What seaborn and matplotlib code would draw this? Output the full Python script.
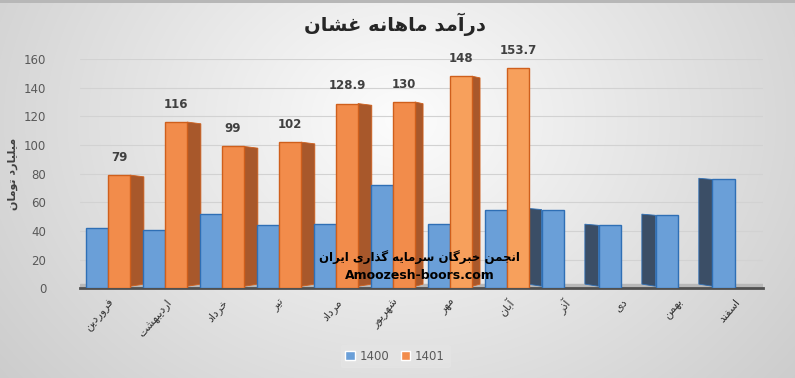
import numpy as np
import pandas as pd
import matplotlib
matplotlib.use("Agg")
import matplotlib.pyplot as plt
from matplotlib.patches import Polygon
import seaborn as sns

# ---------------- data ----------------
title = "درآمد ماهانه غشان"
y_label = "میلیارد تومان"
months = ["فروردین", "اردیبهشت", "خرداد", "تیر", "مرداد", "شهریور",
          "مهر", "آبان", "آذر", "دی", "بهمن", "اسفند"]
series_names = ["1400", "1401"]
values_1400 = [42, 41, 52, 44, 45, 72, 45, 55, 55, 44, 51, 76]
values_1401 = [79, 116, 99, 102, 128.9, 130, 148, 153.7]
y_ticks = [0, 20, 40, 60, 80, 100, 120, 140, 160]
watermark_fa = "انجمن خبرگان سرمایه گذاری ایران"
watermark_en = "Amoozesh-boors.com"

# ---------------- minimal Persian shaping (for display only) ----------------
FORMS = {
    '\u0627': ('\uFE8D', '\uFE8E', None, None),
    '\u0622': ('\uFE81', '\uFE82', None, None),
    '\u0628': ('\uFE8F', '\uFE90', '\uFE91', '\uFE92'),
    '\u062A': ('\uFE95', '\uFE96', '\uFE97', '\uFE98'),
    '\u062C': ('\uFE9D', '\uFE9E', '\uFE9F', '\uFEA0'),
    '\u062E': ('\uFEA5', '\uFEA6', '\uFEA7', '\uFEA8'),
    '\u062F': ('\uFEA9', '\uFEAA', None, None),
    '\u0630': ('\uFEAB', '\uFEAC', None, None),
    '\u0631': ('\uFEAD', '\uFEAE', None, None),
    '\u0632': ('\uFEAF', '\uFEB0', None, None),
    '\u0633': ('\uFEB1', '\uFEB2', '\uFEB3', '\uFEB4'),
    '\u0634': ('\uFEB5', '\uFEB6', '\uFEB7', '\uFEB8'),
    '\u063A': ('\uFECD', '\uFECE', '\uFECF', '\uFED0'),
    '\u0641': ('\uFED1', '\uFED2', '\uFED3', '\uFED4'),
    '\u0644': ('\uFEDD', '\uFEDE', '\uFEDF', '\uFEE0'),
    '\u0645': ('\uFEE1', '\uFEE2', '\uFEE3', '\uFEE4'),
    '\u0646': ('\uFEE5', '\uFEE6', '\uFEE7', '\uFEE8'),
    '\u0647': ('\uFEE9', '\uFEEA', '\uFEEB', '\uFEEC'),
    '\u0648': ('\uFEED', '\uFEEE', None, None),
    '\u06CC': ('\uFBFC', '\uFBFD', '\uFBFE', '\uFBFF'),
    '\u06AF': ('\uFB92', '\uFB93', '\uFB94', '\uFB95'),
}


def fa(text):
    chars = list(text)
    out = []
    for i, c in enumerate(chars):
        if c not in FORMS:
            out.append(c)
            continue
        prev = chars[i - 1] if i > 0 else None
        nxt = chars[i + 1] if i + 1 < len(chars) else None
        jp = prev in FORMS and FORMS[prev][2] is not None
        jn = FORMS[c][2] is not None and nxt in FORMS
        iso, fin, ini, med = FORMS[c]
        if jp and jn:
            out.append(med)
        elif jp:
            out.append(fin)
        elif jn:
            out.append(ini)
        else:
            out.append(iso)
    return "".join(reversed(out))


# ---------------- dataframe ----------------
rows = []
for m, v in zip(months, values_1400):
    rows.append({"month": m, "year": series_names[0], "value": v})
for m, v in zip(months, values_1401):
    rows.append({"month": m, "year": series_names[1], "value": v})
df = pd.DataFrame(rows)

# ---------------- style ----------------
sns.set_theme(style="white")
plt.rcParams["font.family"] = ["DejaVu Sans"]

fig = plt.figure(figsize=(7.95, 3.78), dpi=100)

# gradient background
bg = fig.add_axes([0, 0, 1, 1], zorder=-10)
yy, xx = np.mgrid[0:378, 0:795]
d = np.sqrt(((xx - 400) / 540.0) ** 2 + ((yy - 120) / 440.0) ** 2)
g = np.clip(0.99 - 0.2 * d, 0.78, 0.99)
img = np.dstack([g, g, g])
img[0:3, :, :] = 0.72
bg.imshow(img, aspect="auto", extent=[0, 1, 0, 1], origin="upper")
bg.set_axis_off()

ax = fig.add_axes([0.100, 0.237, 0.860, 0.607])
ax.patch.set_alpha(0)

palette = {"1400": "#6a9fd8", "1401": "#f28c4b"}
sns.barplot(data=df, x="month", y="value", hue="year", order=months,
            hue_order=series_names, palette=palette, width=0.78,
            saturation=1, ax=ax, legend=True, zorder=3)

edge = {"1400": "#2f6fb5", "1401": "#cf5f1c"}
side = {"1400": "#3b4e66", "1401": "#a8582b"}
for cont, name in zip(ax.containers, series_names):
    for p in cont.patches:
        p.set_edgecolor(edge[name])
        p.set_linewidth(1.0)
        h = p.get_height()
        if not np.isfinite(h) or h <= 0:
            continue
        x0, w = p.get_x(), p.get_width()
        xc = x0 + w / 2
        if name == "1401" and xc > 5.6:
            p.set_facecolor("#f7a05c")
        dw = 0.24 if xc < 5 else 0.14
        if name == "1401" and xc < 6.6:
            pts = [(x0 + w, 1.5), (x0 + w, h), (x0 + w + dw, h - 1.2), (x0 + w + dw, 3)]
            ax.add_patch(Polygon(pts, closed=True, facecolor=side[name],
                                 edgecolor=edge[name], lw=0.6, zorder=2.5))
        if name == "1400" and xc > 7.6:
            dw = 0.24
            pts = [(x0, 1.5), (x0, h), (x0 - dw, h + 0.8), (x0 - dw, 3)]
            ax.add_patch(Polygon(pts, closed=True, facecolor=side[name],
                                 edgecolor=edge[name], lw=0.6, zorder=2.5))

# data labels on 1401
c1401 = ax.containers[1]
labels = []
for p in c1401.patches:
    h = p.get_height()
    labels.append(f"{h:g}" if np.isfinite(h) and h > 0 else "")
ax.bar_label(c1401, labels=labels, padding=8, fontsize=8.5,
             fontweight="bold", color="#404040")

ax.set_ylim(0, 160)
ax.set_xlim(-0.5, len(months) - 0.5)
ax.set_yticks(y_ticks)
ax.set_yticklabels([str(t) for t in y_ticks], fontsize=8.5, color="#595959")
ax.tick_params(axis="y", length=0, pad=24)
ax.tick_params(axis="x", length=0, pad=6)
ax.set_xticks(range(len(months)))
ax.set_xticklabels([fa(m) for m in months], rotation=50, ha="right",
                   va="top", rotation_mode="anchor", fontsize=8, color="#333333")
ax.set_xlabel("")
ax.set_ylabel(fa(y_label), fontsize=8, fontweight="bold", color="#404040", labelpad=4)
ax.grid(axis="y", color="#d2d2d2", lw=0.8, zorder=0)
for s in ["top", "right", "left"]:
    ax.spines[s].set_visible(False)
ax.spines["bottom"].set_color("#505050")
ax.spines["bottom"].set_linewidth(2)

# floor band
ax.axhspan(0, 3, color="#b8b8b8", zorder=1)

# legend
handles, lbls = ax.get_legend_handles_labels()
ax.get_legend().remove()
fig.legend(handles, lbls, loc="center", bbox_to_anchor=(0.497, 0.058),
           ncol=2, frameon=True, facecolor="#e4e4e4", edgecolor="#e4e4e4",
           fontsize=8.5, handlelength=0.8, handleheight=0.8, columnspacing=1.0,
           handletextpad=0.4, labelcolor="#595959")

# title
fig.text(0.497, 0.935, fa(title), ha="center", va="center", fontsize=14,
         fontweight="bold", color="#262626")

# watermark
fig.text(0.528, 0.32, fa(watermark_fa), ha="center", va="center",
         fontsize=8.5, fontweight="bold", color="black", zorder=10)
fig.text(0.528, 0.27, watermark_en, ha="center", va="center",
         fontsize=9, fontweight="bold", color="black", zorder=10)

fig.savefig("out.png", dpi=100)
